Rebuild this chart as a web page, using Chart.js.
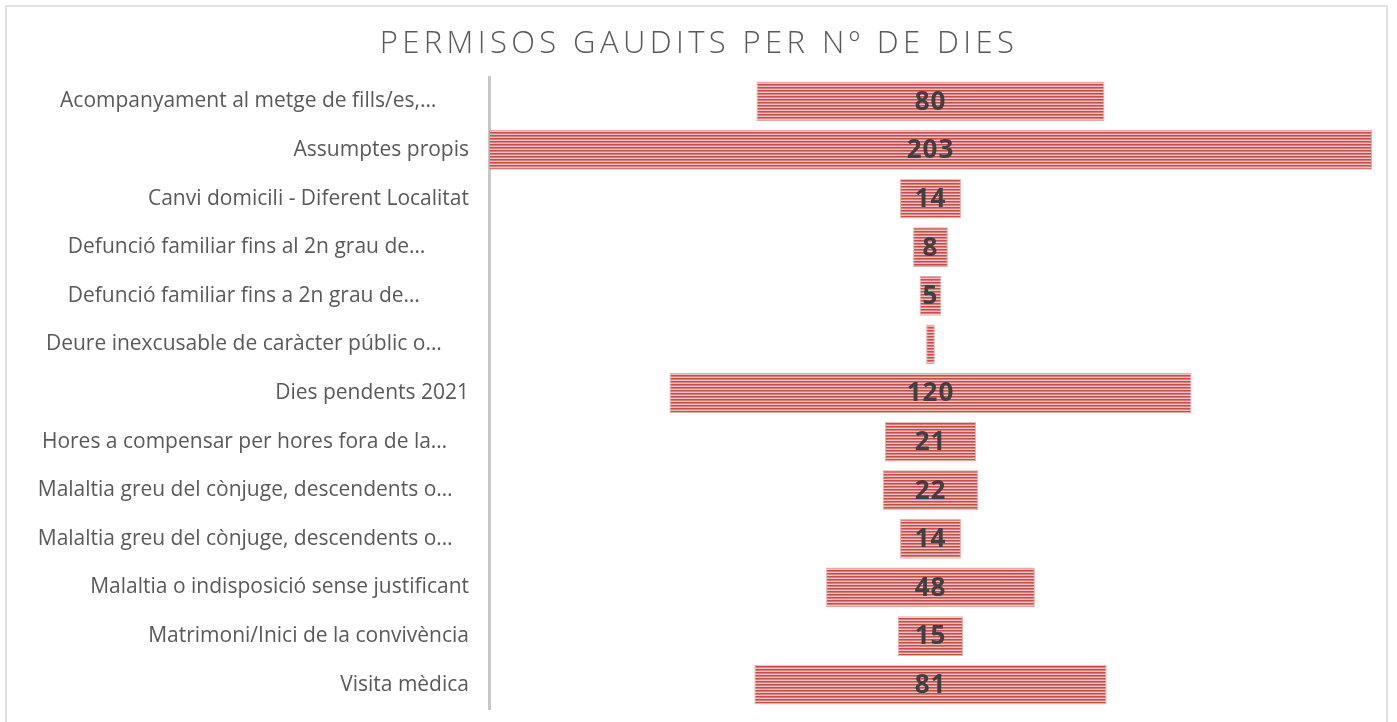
<!DOCTYPE html>
<html>
<head>
<meta charset="utf-8">
<script src="https://cdn.jsdelivr.net/npm/chart.js@4.4.0/dist/chart.umd.min.js"></script>
<style>
  html, body { margin: 0; padding: 0; background: #fff; }
  #wrap { position: relative; width: 1397px; height: 722px; }
  #frame { position: absolute; left: 5px; top: 5px; width: 1383px; height: 730px; border: 2px solid #e0e0e0; box-sizing: border-box; }
</style>
</head>
<body>
<div id="wrap">
  <div id="frame"></div>
  <canvas id="funnel" width="1397" height="722" style="position:absolute;left:0;top:0"></canvas>
</div>
<script>
const chartTitle = 'PERMISOS GAUDITS PER Nº DE DIES';

const categories = [
  'Acompanyament al metge de fills/es,…',
  'Assumptes propis',
  'Canvi domicili - Diferent Localitat',
  'Defunció familiar fins al 2n grau de…',
  'Defunció familiar fins a 2n grau de…',
  'Deure inexcusable de caràcter públic o…',
  'Dies pendents 2021',
  'Hores a compensar per hores fora de la…',
  'Malaltia greu del cònjuge, descendents o…',
  'Malaltia greu del cònjuge, descendents o…',
  'Malaltia o indisposició sense justificant',
  'Matrimoni/Inici de la convivència',
  'Visita mèdica'
];

const days = [80, 203, 14, 8, 5, 2, 120, 21, 22, 14, 48, 15, 81];

// funnel: each bar is centred on zero
const halfMax = Math.max(...days) / 2;

const LABEL_FONT = '21px "Open Sans"';
const AXIS_W = 489;
const TICK_PAD = 12;

// striped fill like the original
function stripes() {
  const c = document.createElement('canvas');
  c.width = 4; c.height = 3;
  const g = c.getContext('2d');
  g.fillStyle = '#c0504d'; g.fillRect(0, 0, 4, 1);
  g.fillStyle = '#d6807d'; g.fillRect(0, 1, 4, 1);
  g.fillStyle = '#eebfbe'; g.fillRect(0, 2, 4, 1);
  return g.createPattern(c, 'repeat');
}

// truncated labels sit centred in the label box (like excel), full ones stay right aligned
const measure = document.createElement('canvas').getContext('2d');
function padLabel(label) {
  if (!label.endsWith('…')) return label;
  measure.font = LABEL_FONT;
  const w = measure.measureText(label).width;
  const sp = measure.measureText(' ').width;
  const right = AXIS_W - TICK_PAD;
  const centre = 254;
  const gap = right - (centre + w / 2);
  return label + ' '.repeat(Math.max(0, Math.round(gap / sp)));
}

const titlePlugin = {
  id: 'spacedTitle',
  afterDraw(chart) {
    const ctx = chart.ctx;
    ctx.save();
    ctx.font = '300 31px "Open Sans"';
    ctx.fillStyle = '#595959';
    ctx.textAlign = 'center';
    ctx.textBaseline = 'alphabetic';
    ctx.letterSpacing = '4.4px';
    ctx.fillText(chartTitle, 699, 53);
    ctx.restore();
  }
};

const valuePlugin = {
  id: 'barValues',
  afterDatasetsDraw(chart) {
    const ctx = chart.ctx;
    const meta = chart.getDatasetMeta(0);
    const xMid = chart.scales.x.getPixelForValue(0);
    ctx.save();
    ctx.font = 'bold 26px "Open Sans"';
    ctx.fillStyle = '#404040';
    ctx.textAlign = 'center';
    ctx.textBaseline = 'middle';
    ctx.letterSpacing = '1px';
    meta.data.forEach((bar, i) => {
      if (days[i] < 3) return;
      ctx.fillText(days[i], xMid, bar.y + 1);
    });
    ctx.restore();
  }
};

new Chart(document.getElementById('funnel'), {
  type: 'bar',
  data: {
    labels: categories,
    datasets: [{
      data: days.map(v => [-v / 2, v / 2]),
      backgroundColor: stripes(),
      borderColor: 'rgba(214,140,138,0.7)',
      borderWidth: 1,
      borderSkipped: false,
      barPercentage: 0.9,
      categoryPercentage: 0.91
    }]
  },
  options: {
    indexAxis: 'y',
    responsive: false,
    animation: false,
    layout: { padding: { top: 77, right: 25, bottom: 13, left: 0 } },
    plugins: {
      legend: { display: false },
      tooltip: { enabled: false },
      title: { display: false }
    },
    scales: {
      x: {
        display: false,
        min: -halfMax,
        max: halfMax
      },
      y: {
        afterFit(scale) {
          scale.width = AXIS_W;
          scale.paddingTop = 0;
          scale.paddingBottom = 0;
        },
        grid: { display: false },
        border: { display: true, color: '#c8c8c8', width: 3 },
        ticks: {
          color: '#595959',
          font: { family: '"Open Sans"', size: 21 },
          padding: TICK_PAD,
          callback(value) { return padLabel(this.getLabelForValue(value)); }
        }
      }
    }
  },
  plugins: [titlePlugin, valuePlugin]
});
</script>
</body>
</html>
